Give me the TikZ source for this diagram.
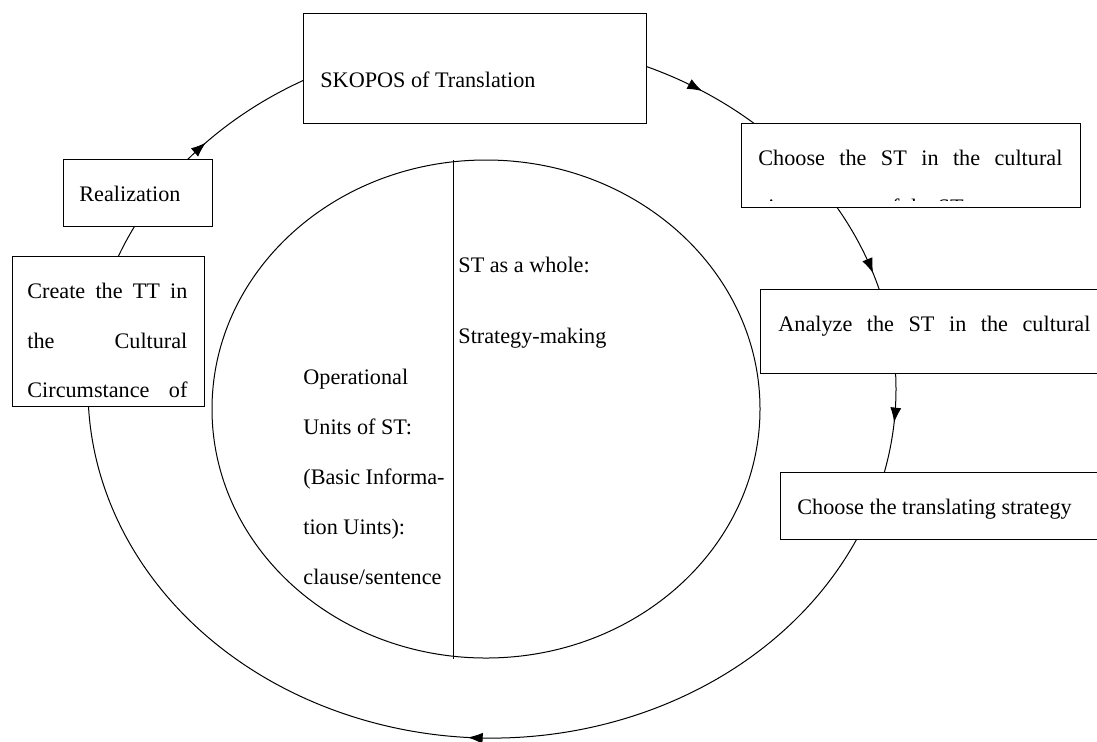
\documentclass[tikz,border=0pt]{standalone}
\usepackage{fontspec}
\setmainfont{Liberation Serif}
\usetikzlibrary{arrows.meta,decorations.markings,shapes.geometric}

\begin{document}
\begin{tikzpicture}[x=0.5pt,y=-0.5pt,
    txt/.style={inner sep=0pt, anchor=base west, font=\fontsize{11.1}{13}\selectfont},
    flow/.style={postaction={decorate}, decoration={markings,
        mark=at position #1 with {\arrow{Latex[length=7.5pt,width=5.5pt]}}}}]
  \tikzstyle{box} = [draw, line width=0.6pt, fill=white, inner sep=0pt, anchor=north west]
  \tikzstyle{ring} = [line width=0.5pt]
  \clip (0,0) rectangle (1097,741);
  \coordinate (mid) at (492,389);

  % outer cycle, one arc per step
  \coordinate (r1) at ([shift={(-140:404 and 349)}]mid);
  \coordinate (r2) at ([shift={(-69:404 and 349)}]mid);
  \coordinate (r3) at ([shift={(-33:404 and 349)}]mid);
  \coordinate (r4) at ([shift={(-4:404 and 349)}]mid);
  \coordinate (r5) at ([shift={(24:404 and 349)}]mid);
  \coordinate (r6) at ([shift={(-159:404 and 349)}]mid);
  \draw[ring, flow=0.2] (r1) arc[start angle=-140, end angle=-116, x radius=404, y radius=349];
  \draw[ring, flow=0.5] (r2) arc[start angle=-69, end angle=-48, x radius=404, y radius=349];
  \draw[ring, flow=0.76] (r3) arc[start angle=-33, end angle=-15, x radius=404, y radius=349];
  \draw[ring, flow=0.5] (r4) arc[start angle=-4, end angle=15, x radius=404, y radius=349];
  \draw[ring, flow=0.455] (r5) arc[start angle=24, end angle=179, x radius=404, y radius=349];
  \draw[ring] (r6) arc[start angle=-159, end angle=-151, x radius=404, y radius=349];

  % boxes
  \node[box, minimum width=171.5pt, minimum height=55pt] (skopos) at (303,13) {};
  \node[box, minimum width=74.5pt, minimum height=33.5pt] (real) at (63,159) {};
  \node[box, minimum width=169.5pt, minimum height=42pt] (choose) at (741,123) {};
  \node[box, minimum width=175pt, minimum height=42pt] (analyze) at (760,289) {};
  \node[box, minimum width=165pt, minimum height=33.5pt] (strat) at (780,472) {};
  \node[box, minimum width=96pt, minimum height=75pt] (create) at (12,256) {};

  \node[txt] (skoposlbl) at (320,87) {SKOPOS of Translation};
  \node[txt] (reallbl) at (79,201) {Realization};
  \node[txt] (chooselbl) at (758,165) {\makebox[152pt][s]{Choose the ST in the cultural}};
  \begin{scope}
    \clip (741,123) rectangle (1080,200);
    \node[txt] (choose2) at (758,214) {circumstance of the ST};
  \end{scope}
  \node[txt] (analyzelbl) at (778,331) {\makebox[156pt][s]{Analyze the ST in the cultural}};
  \node[txt] (stratlbl) at (797,514) {Choose the translating strategy};
  \foreach \t [count=\i] in {Create the TT in, the Cultural, Circumstance of}
    \node[txt] (create\i) at (27,249+49.5*\i) {\makebox[80pt][s]{\t}};

  % inner circle
  \node[draw, ellipse, ring, minimum width=274pt, minimum height=249pt, inner sep=0pt] (core) at (486,409) {};
  \draw[ring] ([xshift=-16.5pt]core.north) -- ([xshift=-16.5pt]core.south);
  \node[txt] (whole) at (458,272) {ST as a whole:};
  \node[txt] (making) at (458,343) {Strategy-making};
  \foreach \t [count=\i] in {Operational, Units of ST:, {(Basic Informa-}, tion Uints):, {clause/sentence}}
    \node[txt] (unit\i) at (303,334+50*\i) {\t};
\end{tikzpicture}
\end{document}
